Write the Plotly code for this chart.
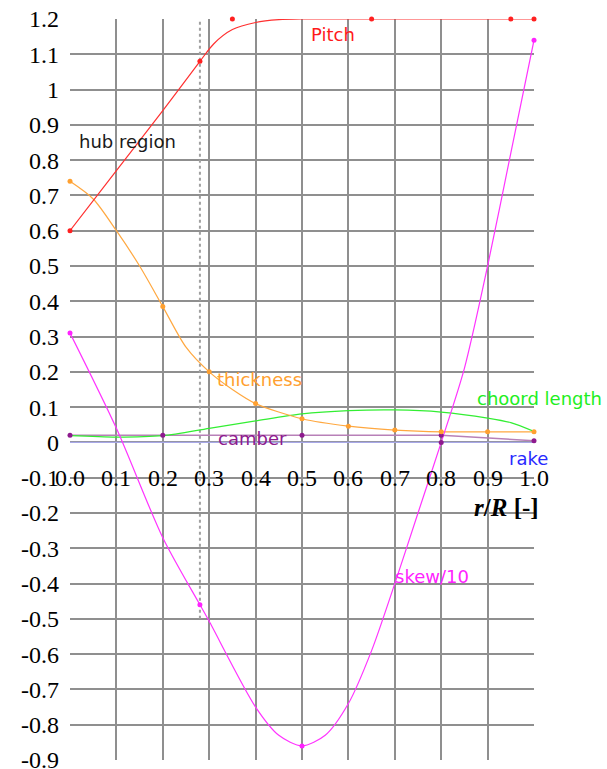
import plotly.graph_objects as go

# ---------------- data ----------------
# Pitch
pitch_pts_r = [0.0, 0.28, 0.35, 0.65, 0.95, 1.0]
pitch_pts_v = [0.60, 1.08, 1.20, 1.20, 1.20, 1.20]
pitch_curve_r = [0.0, 0.10, 0.20, 0.28, 0.31, 0.35, 0.40, 0.45, 0.50, 0.75, 1.0]
pitch_curve_v = [0.60, 0.77, 0.94, 1.08, 1.13, 1.17, 1.19, 1.198, 1.20, 1.20, 1.20]

# Thickness
thick_pts_r = [0.0, 0.2, 0.3, 0.4, 0.5, 0.6, 0.7, 0.8, 0.9, 1.0]
thick_pts_v = [0.74, 0.385, 0.20, 0.11, 0.067, 0.046, 0.035, 0.03, 0.03, 0.03]
thick_curve_r = [0.0, 0.05, 0.10, 0.15, 0.20, 0.25, 0.30, 0.35, 0.40, 0.50, 0.60, 0.70, 0.80, 0.90, 1.0]
thick_curve_v = [0.74, 0.69, 0.60, 0.50, 0.385, 0.27, 0.20, 0.15, 0.11, 0.067, 0.046, 0.035, 0.03, 0.03, 0.03]

# Chord length
chord_r = [0.0, 0.1, 0.2, 0.3, 0.4, 0.5, 0.6, 0.7, 0.8, 0.9, 0.95, 1.0]
chord_v = [0.019, 0.015, 0.019, 0.040, 0.061, 0.081, 0.090, 0.092, 0.086, 0.069, 0.056, 0.031]

# Camber
camber_r = [0.0, 0.2, 0.5, 0.8, 1.0]
camber_v = [0.02, 0.02, 0.02, 0.02, 0.005]

# Rake
rake_r = [0.0, 1.0]
rake_v = [0.0, 0.0]
rake_pts_r = [0.8]
rake_pts_v = [0.0]

# Skew / 10
skew_pts_r = [0.0, 0.28, 0.5, 1.0]
skew_pts_v = [0.31, -0.46, -0.86, 1.14]
skew_curve_r = [0.0, 0.1, 0.2, 0.28, 0.3, 0.4, 0.45, 0.5, 0.55, 0.6, 0.65, 0.7, 0.75, 0.8, 0.85, 0.9, 0.95, 1.0]
skew_curve_v = [0.31, 0.04, -0.27, -0.46, -0.507, -0.75, -0.83, -0.86, -0.83, -0.74, -0.59, -0.40, -0.20, 0.0, 0.21, 0.50, 0.82, 1.14]

# Hub region boundaries (r/R) and their vertical extent
hub_r = [-0.004, 0.28]
hub_extent = [-0.5, 1.22]

# Ticks
y_ticks = [1.2, 1.1, 1.0, 0.9, 0.8, 0.7, 0.6, 0.5, 0.4, 0.3, 0.2, 0.1, 0.0,
           -0.1, -0.2, -0.3, -0.4, -0.5, -0.6, -0.7, -0.8, -0.9]
y_tick_text = ["1.2", "1.1", "1", "0.9", "0.8", "0.7", "0.6", "0.5", "0.4", "0.3", "0.2", "0.1", "0",
               "-0.1", "-0.2", "-0.3", "-0.4", "-0.5", "-0.6", "-0.7", "-0.8", "-0.9"]
x_ticks = [0.0, 0.1, 0.2, 0.3, 0.4, 0.5, 0.6, 0.7, 0.8, 0.9, 1.0]
x_tick_text = ["0.0", "0.1", "0.2", "0.3", "0.4", "0.5", "0.6", "0.7", "0.8", "0.9", "1.0"]
x_label_row = -0.1

# Series labels: (text, x, y, color)
series_labels = [
    ("Pitch", 0.515, 1.155, "#ff1a1a"),
    ("hub region", 0.015, 0.854, "#1a1a1a"),
    ("thickness", 0.313, 0.177, "#ffa030"),
    ("choord length", 0.873, 0.124, "#22ee22"),
    ("camber", 0.315, 0.010, "#8e1a8e"),
    ("rake", 0.942, -0.046, "#2a2aff"),
    ("skew/10", 0.696, -0.380, "#ff22ff"),
]

SERIF = "Liberation Serif, serif"

# ---------------- figure ----------------
fig = go.Figure()

def line(r, v, color, width=1.2, shape="spline", smoothing=0.8, dash="solid"):
    fig.add_trace(go.Scatter(x=r, y=v, mode="lines",
                             line=dict(color=color, width=width, shape=shape, smoothing=smoothing, dash=dash),
                             cliponaxis=False, hoverinfo="skip", showlegend=False))

def pts(r, v, color, size=5):
    fig.add_trace(go.Scatter(x=r, y=v, mode="markers",
                             marker=dict(color=color, size=size),
                             cliponaxis=False, hoverinfo="skip", showlegend=False))

# hub region dotted lines
for h in hub_r:
    line([h, h], hub_extent, "#a0a0a0", width=2, shape="linear", dash="dot")

line(rake_r, rake_v, "#a8a8e8", width=1.3, shape="linear")
line(camber_r, camber_v, "#b880b8", width=1.5, shape="linear")
line(chord_r, chord_v, "#33ee33")
line(thick_curve_r, thick_curve_v, "#ffa840")
line(pitch_curve_r, pitch_curve_v, "#ff3030")
line(skew_curve_r, skew_curve_v, "#ff33ff")

pts(camber_r, camber_v, "#8e1a8e")
pts(rake_pts_r, rake_pts_v, "#8e1a8e")
pts(thick_pts_r, thick_pts_v, "#ffa030")
pts(pitch_pts_r, pitch_pts_v, "#ff2020")
pts(skew_pts_r, skew_pts_v, "#ff22ff")

# x tick labels placed on the -0.1 row
for xv, txt in zip(x_ticks, x_tick_text):
    fig.add_annotation(x=xv, y=x_label_row, xref="x", yref="y", text=txt, showarrow=False,
                       xanchor="center", yanchor="middle",
                       font=dict(family=SERIF, size=24, color="black"))

fig.add_annotation(x=0.94, y=-0.183, xref="x", yref="y",
                   text="<b><i>r</i>/<i>R</i> [-]</b>", showarrow=False,
                   xanchor="center", yanchor="middle",
                   font=dict(family=SERIF, size=25, color="black"))

for txt, xv, yv, col in series_labels:
    fig.add_annotation(x=xv, y=yv, xref="x", yref="y", text=txt, showarrow=False,
                       xanchor="left", yanchor="middle",
                       font=dict(family="DejaVu Sans", size=18, color=col))

fig.update_layout(
    width=607, height=769,
    margin=dict(l=70, r=73, t=19, b=9, autoexpand=False),
    paper_bgcolor="white", plot_bgcolor="white",
    xaxis=dict(range=[0, 1], tickvals=x_ticks, showticklabels=False,
               showgrid=True, gridcolor="#8f8f8f", gridwidth=1.5,
               zeroline=False, showline=False, ticks="", automargin=False),
    yaxis=dict(range=[-0.9, 1.2], tickvals=y_ticks, ticktext=y_tick_text,
               showgrid=True, gridcolor="#8f8f8f", gridwidth=1.5,
               zeroline=False, showline=False, ticks="", ticklabelstandoff=10,
               ticklabeloverflow="allow", automargin=False,
               tickfont=dict(family=SERIF, size=24, color="black")),
    showlegend=False,
)

fig.write_html("out.html")
